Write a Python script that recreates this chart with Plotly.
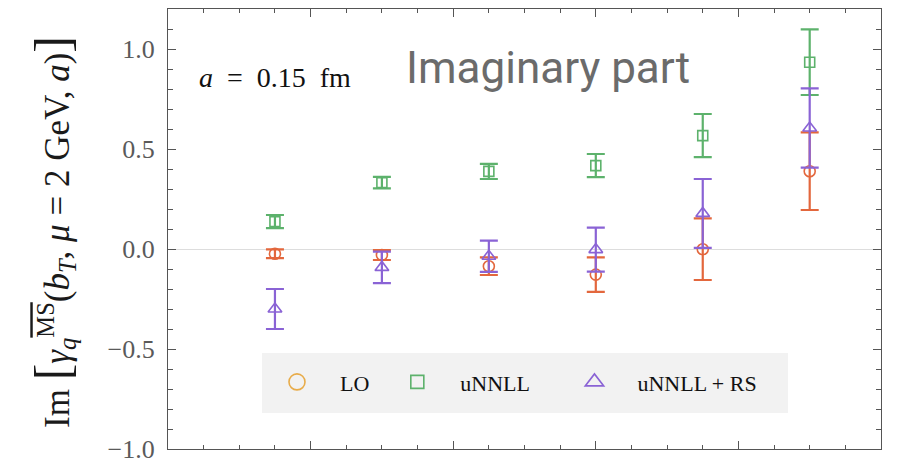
import plotly.graph_objects as go

# ---- data ----
b_T = [0.15, 0.30, 0.45, 0.60, 0.75, 0.90]

lo_val = [-0.024, -0.030, -0.086, -0.128, -0.001, 0.389]
lo_err = [0.022, 0.025, 0.044, 0.086, 0.154, 0.194]

unnll_val = [0.137, 0.332, 0.388, 0.417, 0.567, 0.934]
unnll_err = [0.033, 0.029, 0.038, 0.058, 0.108, 0.164]

rs_val = [-0.300, -0.092, -0.036, -0.003, 0.178, 0.605]
rs_err = [0.100, 0.079, 0.078, 0.110, 0.172, 0.198]

series_names = ["LO", "uNNLL", "uNNLL + RS"]
y_ticks = [-1.0, -0.5, 0.0, 0.5, 1.0]

ORANGE = "#E3673D"
ORANGE_LEG = "#E8AC4A"
GREEN = "#5DB26C"
PURPLE = "#8A63D5"
SERIF = "Liberation Serif, Times New Roman, serif"
NB = "\u00a0"

fig = go.Figure()

series = [
    (lo_val, lo_err, "circle-open", 11, ORANGE),
    (unnll_val, unnll_err, "square-open", 10, GREEN),
    (rs_val, rs_err, "triangle-up-open", 12, PURPLE),
]
for vals, errs, sym, sz, col in series:
    fig.add_trace(go.Scatter(
        x=b_T, y=vals, mode="markers", showlegend=False,
        marker=dict(symbol=sym, size=sz, color=col, line=dict(width=1.6, color=col)),
        error_y=dict(type="data", array=errs, visible=True, color=col,
                     thickness=2.2, width=9),
    ))

# legend entries (trailing spaces only widen the legend spacing)
leg_specs = [("circle-open", 18, ORANGE_LEG, 0), ("square-open", 13, GREEN, 3),
             ("triangle-up-open", 16, PURPLE, 0)]
for name, (sym, sz, col, pad) in zip(series_names, leg_specs):
    fig.add_trace(go.Scatter(
        x=[None], y=[None], mode="markers", name=name + NB * pad,
        marker=dict(symbol=sym, size=sz, color=col, line=dict(width=1.6, color=col)),
    ))

axis_common = dict(
    showline=True, linecolor="#555555", linewidth=1.3, mirror="allticks",
    ticks="inside", tickcolor="#555555", showgrid=False, automargin=False,
)

fig.update_layout(
    width=906, height=459,
    margin=dict(l=168, r=25, t=9, b=10),
    paper_bgcolor="white", plot_bgcolor="white",
    xaxis=dict(range=[0, 1.0], tick0=0, dtick=0.2, ticklen=8, tickwidth=1.2,
               showticklabels=False, zeroline=False,
               minor=dict(dtick=0.05, ticks="inside", ticklen=4, tickcolor="#555555", tickwidth=1),
               **axis_common),
    yaxis=dict(range=[-1.0, 1.2], tickvals=y_ticks, tickformat=".1f", ticklen=8, tickwidth=1.2,
               tickfont=dict(family=SERIF, size=26, color="#5a5a5a"),
               ticklabelstandoff=7, ticklabeloverflow="allow",
               zeroline=True, zerolinecolor="#DDDDDD", zerolinewidth=1,
               minor=dict(dtick=0.1, ticks="inside", ticklen=5, tickcolor="#555555", tickwidth=1),
               **axis_common),
    legend=dict(orientation="h", x=0.1206, xanchor="left", y=0.152, yanchor="middle",
                bgcolor="rgba(0,0,0,0)", font=dict(family=SERIF, size=22, color="#111111"),
                itemwidth=76),
    shapes=[dict(type="rect", xref="paper", yref="paper", x0=0.1318, x1=0.8696,
                 y0=0.0818, y1=0.218, fillcolor="#F2F2F2", line=dict(width=0), layer="below")],
    annotations=[
        dict(text="<i>a</i>" + NB + " = " + NB + "0.15" + NB + " fm", xref="paper", yref="paper",
             x=(197 - 168) / 713, y=(449 - 77) / 440, xanchor="left", yanchor="middle",
             showarrow=False, font=dict(family=SERIF, size=28, color="#111111")),
        dict(text="Imaginary part", xref="paper", yref="paper",
             x=(404 - 168) / 713, y=(449 - 68) / 440, xanchor="left", yanchor="middle",
             showarrow=False, font=dict(family="Roboto, sans-serif", size=44, color="#6b6b6b")),
        dict(text="Im <span style='font-size:50px'>[</span><i>γ</i><sub><i>q</i></sub>"
                  "<sup><span style='text-decoration:overline'>MS</span></sup>"
                  "(<i>b</i><sub><i>T</i></sub>, <i>μ</i> = 2 GeV, <i>a</i>)"
                  "<span style='font-size:50px'>]</span>",
             xref="paper", yref="paper", x=(52 - 168) / 713, y=(449 - 232) / 440,
             xanchor="center", yanchor="middle", textangle=-90, showarrow=False,
             font=dict(family=SERIF, size=35, color="#1a1a1a")),
    ],
)

fig.write_html("out.html")
